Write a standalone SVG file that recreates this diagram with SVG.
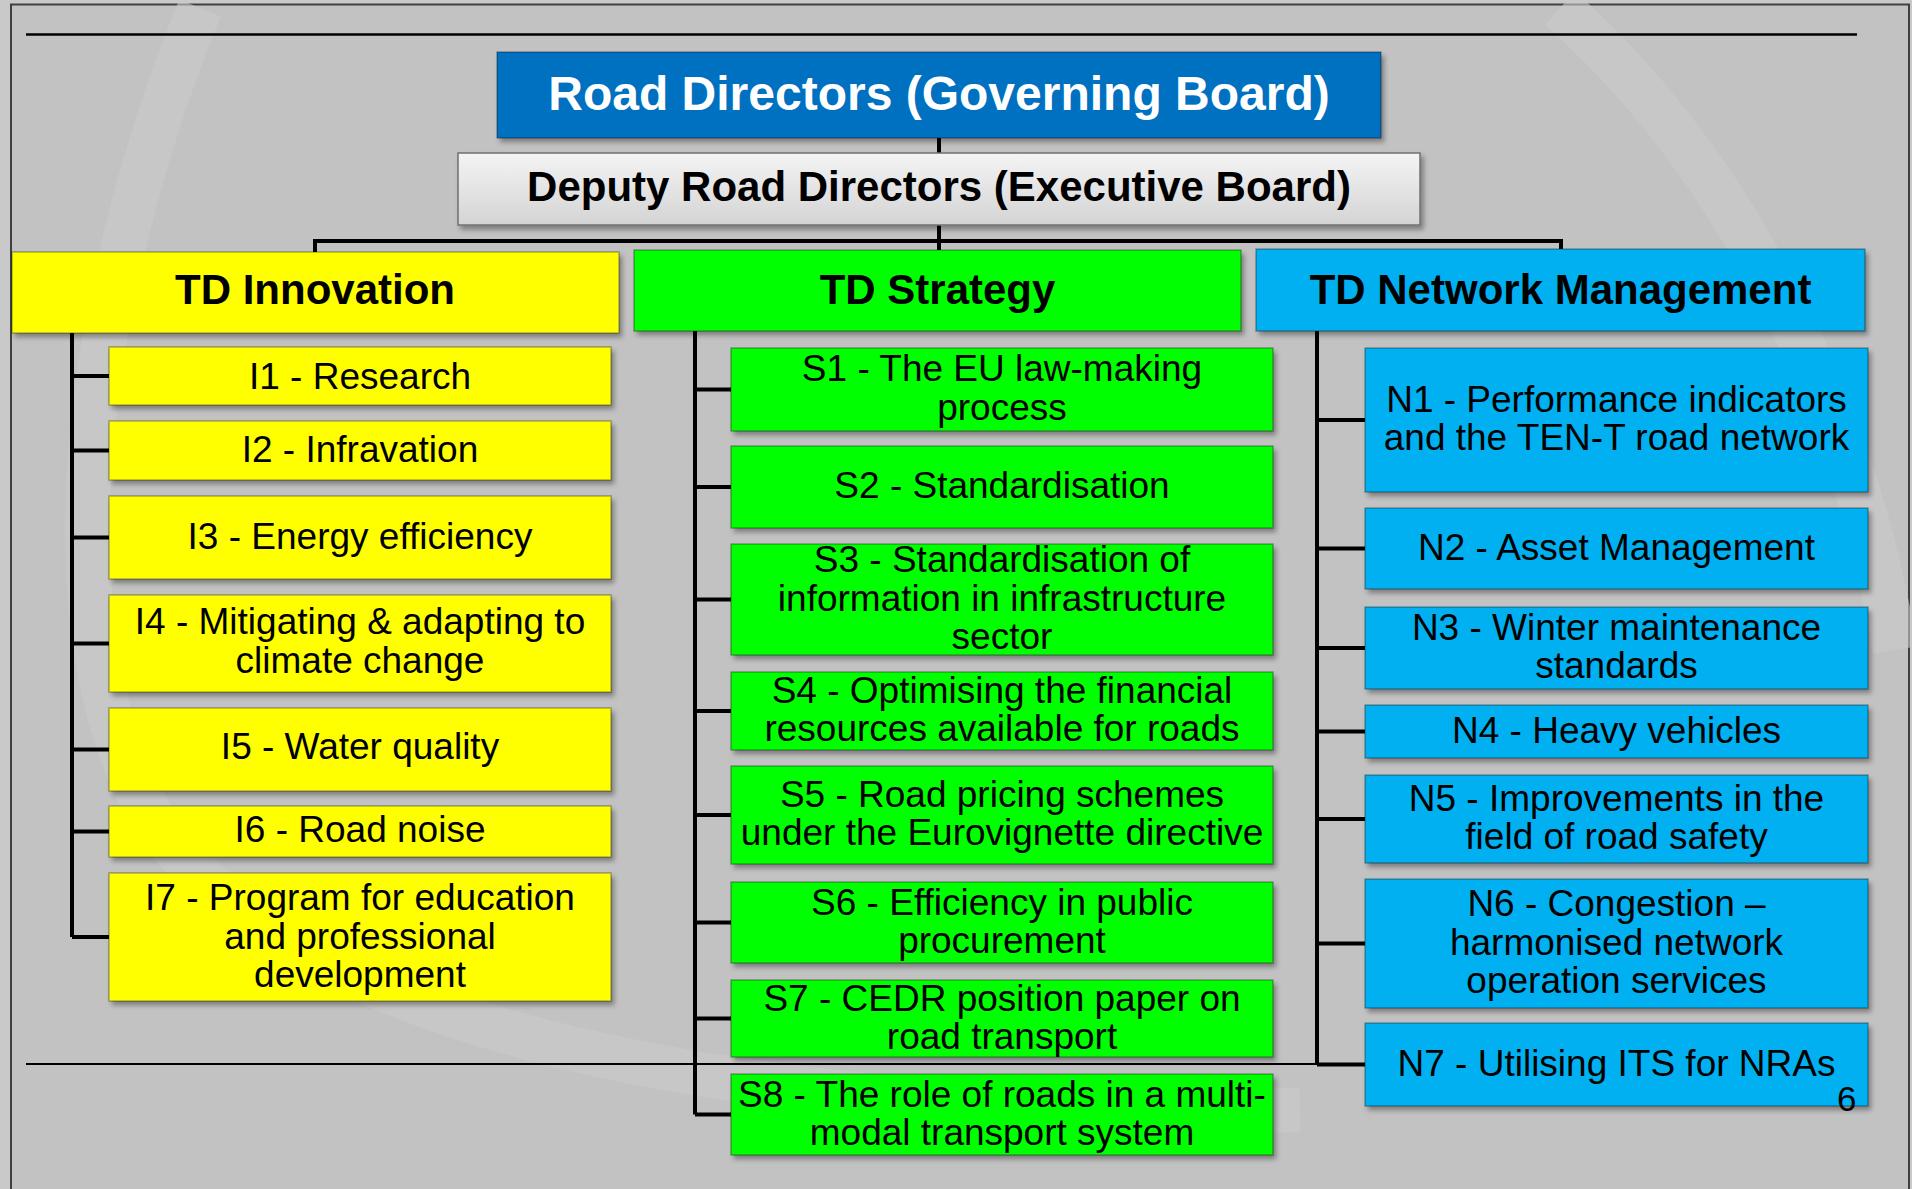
<svg xmlns="http://www.w3.org/2000/svg" width="1912" height="1189" viewBox="0 0 1912 1189">
<defs>
<filter id="sh" x="-5%" y="-10%" width="112%" height="130%">
<feDropShadow dx="3" dy="4" stdDeviation="2.5" flood-color="#000" flood-opacity="0.35"/>
</filter>
<linearGradient id="gray" x1="0" y1="0" x2="0" y2="1">
<stop offset="0" stop-color="#f4f4f4"/>
<stop offset="1" stop-color="#d4d4d4"/>
</linearGradient>
<style>
.box{stroke:#000;stroke-opacity:0.3;stroke-width:1.5;filter:url(#sh)}
.y{fill:#ffff00}
.g{fill:#00ff00}
.b{fill:#00b0f0}
.t{font-family:"Liberation Sans",Arial,sans-serif;font-size:37px;fill:#000;text-anchor:middle}
.h{font-family:"Liberation Sans",Arial,sans-serif;font-size:42px;font-weight:bold;fill:#000;text-anchor:middle}
.conn{fill:none;stroke:#000;stroke-width:4}
</style>
</defs>
<rect x="0" y="0" width="1912" height="1189" fill="#c9c9c9"/>
<rect x="11" y="4.5" width="1898" height="1200" fill="#c2c2c2" stroke="#404040" stroke-width="2"/>
<g fill="none" stroke="#c9c9c9" stroke-width="45" opacity="0.6">
<path d="M 200 8 C 80 300, 40 650, 160 830 C 300 1020, 700 1120, 1300 1110"/>
<path d="M 1560 8 C 1720 150, 1850 380, 1895 650"/>
</g>
<line x1="26" y1="34.5" x2="1857" y2="34.5" stroke="#000" stroke-width="2.5"/>
<line x1="26" y1="1064" x2="1320" y2="1064" stroke="#000" stroke-width="2"/>

<g id="connectors" class="conn">
<path d="M939 138 V153"/>
<path d="M939 225 V250"/>
<path d="M315 252 V241 H1561 V249"/>
<path d="M72 333 V937 M72 376 H109 M72 450.5 H109 M72 537.5 H109 M72 643.5 H109 M72 749.5 H109 M72 831.5 H109 M72 937 H109"/>
<path d="M695 331 V1114.5 M695 389.5 H731 M695 487 H731 M695 599.5 H731 M695 711 H731 M695 815 H731 M695 922.5 H731 M695 1018.5 H731 M695 1114.5 H731"/>
<path d="M1317 331 V1064.5 M1317 420 H1365 M1317 548.5 H1365 M1317 648 H1365 M1317 731.5 H1365 M1317 819 H1365 M1317 943.5 H1365 M1317 1064.5 H1365"/>
</g>

<g id="road-directors">
<rect class="box" x="497" y="52" width="884" height="86" fill="#0070c0"/>
<text x="939" y="110" font-family="Liberation Sans, Arial, sans-serif" font-size="48" font-weight="bold" fill="#fff" text-anchor="middle">Road Directors (Governing Board)</text>
</g>
<g id="deputy-road-directors">
<rect class="box" x="458" y="153" width="962" height="72" fill="url(#gray)" style="stroke:#707070;stroke-opacity:1"/>
<text class="h" x="939" y="201">Deputy Road Directors (Executive Board)</text>
</g>

<g id="td-innovation">
<rect class="box y" x="12" y="252" width="607" height="81"/>
<text class="h" x="315" y="304">TD Innovation</text>
</g>
<g id="td-strategy">
<rect class="box g" x="634" y="250" width="607" height="81"/>
<text class="h" x="937.5" y="304">TD Strategy</text>
</g>
<g id="td-network-management">
<rect class="box b" x="1256" y="249" width="609" height="82"/>
<text class="h" x="1560.5" y="304">TD Network Management</text>
</g>

<g id="i1"><rect class="box y" x="109" y="347" width="502" height="58"/><text class="t" x="360" y="389">I1 - Research</text></g>
<g id="i2"><rect class="box y" x="109" y="421" width="502" height="59"/><text class="t" x="360" y="462">I2 - Infravation</text></g>
<g id="i3"><rect class="box y" x="109" y="496" width="502" height="83"/><text class="t" x="360" y="549">I3 - Energy efficiency</text></g>
<g id="i4"><rect class="box y" x="109" y="595" width="502" height="97"/><text class="t" x="360" y="634">I4 - Mitigating &amp; adapting to</text><text class="t" x="360" y="673">climate change</text></g>
<g id="i5"><rect class="box y" x="109" y="708" width="502" height="83"/><text class="t" x="360" y="759">I5 - Water quality</text></g>
<g id="i6"><rect class="box y" x="109" y="806" width="502" height="51"/><text class="t" x="360" y="842">I6 - Road noise</text></g>
<g id="i7"><rect class="box y" x="109" y="873" width="502" height="128"/><text class="t" x="360" y="910">I7 - Program for education</text><text class="t" x="360" y="948.5">and professional</text><text class="t" x="360" y="987">development</text></g>

<g id="s1"><rect class="box g" x="731" y="348" width="542" height="83"/><text class="t" x="1002" y="381">S1 - The EU law-making</text><text class="t" x="1002" y="419.5">process</text></g>
<g id="s2"><rect class="box g" x="731" y="446" width="542" height="82"/><text class="t" x="1002" y="498">S2 - Standardisation</text></g>
<g id="s3"><rect class="box g" x="731" y="544" width="542" height="111"/><text class="t" x="1002" y="572">S3 - Standardisation of</text><text class="t" x="1002" y="610.5">information in infrastructure</text><text class="t" x="1002" y="649">sector</text></g>
<g id="s4"><rect class="box g" x="731" y="672" width="542" height="78"/><text class="t" x="1002" y="702.5">S4 - Optimising the financial</text><text class="t" x="1002" y="741">resources available for roads</text></g>
<g id="s5"><rect class="box g" x="731" y="766" width="542" height="98"/><text class="t" x="1002" y="806.5">S5 - Road pricing schemes</text><text class="t" x="1002" y="845">under the Eurovignette directive</text></g>
<g id="s6"><rect class="box g" x="731" y="882" width="542" height="81"/><text class="t" x="1002" y="914.5">S6 - Efficiency in public</text><text class="t" x="1002" y="953">procurement</text></g>
<g id="s7"><rect class="box g" x="731" y="980" width="542" height="77"/><text class="t" x="1002" y="1010.5">S7 - CEDR position paper on</text><text class="t" x="1002" y="1049">road transport</text></g>
<g id="s8"><rect class="box g" x="731" y="1074" width="542" height="81"/><text class="t" x="1002" y="1106.5">S8 - The role of roads in a multi-</text><text class="t" x="1002" y="1145">modal transport system</text></g>

<g id="n1"><rect class="box b" x="1365" y="348" width="503" height="144"/><text class="t" x="1616.5" y="411.5">N1 - Performance indicators</text><text class="t" x="1616.5" y="450">and the TEN-T road network</text></g>
<g id="n2"><rect class="box b" x="1365" y="508" width="503" height="81"/><text class="t" x="1616.5" y="559.5">N2 - Asset Management</text></g>
<g id="n3"><rect class="box b" x="1365" y="607" width="503" height="82"/><text class="t" x="1616.5" y="639.5">N3 - Winter maintenance</text><text class="t" x="1616.5" y="678">standards</text></g>
<g id="n4"><rect class="box b" x="1365" y="705" width="503" height="53"/><text class="t" x="1616.5" y="742.5">N4 - Heavy vehicles</text></g>
<g id="n5"><rect class="box b" x="1365" y="775" width="503" height="88"/><text class="t" x="1616.5" y="810.5">N5 - Improvements in the</text><text class="t" x="1616.5" y="849">field of road safety</text></g>
<g id="n6"><rect class="box b" x="1365" y="879" width="503" height="129"/><text class="t" x="1616.5" y="916">N6 - Congestion –</text><text class="t" x="1616.5" y="954.5">harmonised network</text><text class="t" x="1616.5" y="993">operation services</text></g>
<g id="n7"><rect class="box b" x="1365" y="1023" width="503" height="83"/><text class="t" x="1616.5" y="1075.5">N7 - Utilising ITS for NRAs</text></g>

<text x="1837" y="1111" font-family="Liberation Sans, Arial, sans-serif" font-size="35" fill="#000">6</text>
</svg>
